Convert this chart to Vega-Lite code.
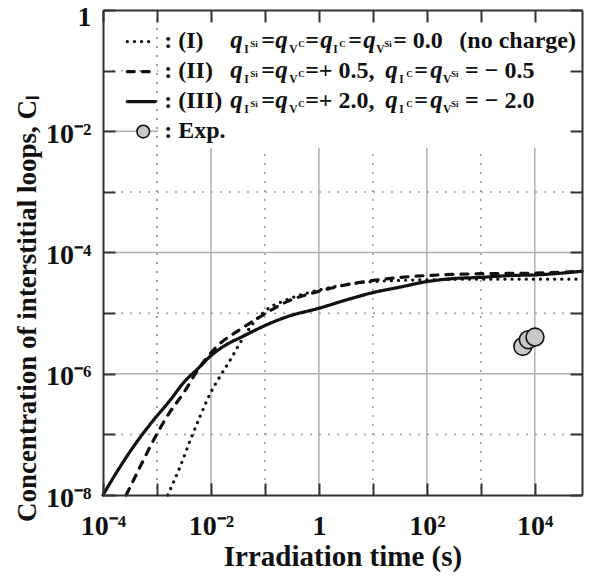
{
  "$schema": "https://vega.github.io/schema/vega-lite/v6.json",
  "width": 479,
  "height": 485,
  "autosize": {"type": "none"},
  "padding": {"left": 103, "top": 10, "right": 7, "bottom": 82},
  "config": {"view": {"stroke": null}, "font": "Liberation Serif"},
  "resolve": {"axis": {"x": "independent", "y": "independent"}},
  "datasets": {
    "grid": [
      {"ax": "x", "v": 0.001, "k": "d"}, {"ax": "x", "v": 0.01, "k": "s"}, {"ax": "x", "v": 0.1, "k": "d"}, {"ax": "x", "v": 1, "k": "s"},
      {"ax": "x", "v": 10, "k": "d"}, {"ax": "x", "v": 100, "k": "s"}, {"ax": "x", "v": 1000, "k": "d"}, {"ax": "x", "v": 10000, "k": "s"},
      {"ax": "y", "v": 1e-7, "k": "d"}, {"ax": "y", "v": 1e-6, "k": "s"}, {"ax": "y", "v": 1e-5, "k": "d"}, {"ax": "y", "v": 1e-4, "k": "s"},
      {"ax": "y", "v": 0.001, "k": "d"}, {"ax": "y", "v": 0.01, "k": "s"}, {"ax": "y", "v": 0.1, "k": "d"}
    ],
    "curves": [
      {"s": "III", "t": 0.0001, "c": 1e-8}, {"s": "III", "t": 0.0002089, "c": 2.951e-8}, {"s": "III", "t": 0.0004266, "c": 7.586e-8},
      {"s": "III", "t": 0.000871, "c": 1.738e-7}, {"s": "III", "t": 0.001778, "c": 3.715e-7}, {"s": "III", "t": 0.00309, "c": 7.079e-7},
      {"s": "III", "t": 0.00631, "c": 1.318e-6}, {"s": "III", "t": 0.00977, "c": 1.95e-6}, {"s": "III", "t": 0.01698, "c": 2.818e-6},
      {"s": "III", "t": 0.03981, "c": 4.169e-6}, {"s": "III", "t": 0.1096, "c": 6.457e-6}, {"s": "III", "t": 0.257, "c": 8.71e-6},
      {"s": "III", "t": 1, "c": 1.202e-5}, {"s": "III", "t": 3.311, "c": 1.66e-5}, {"s": "III", "t": 10.23, "c": 2.188e-5},
      {"s": "III", "t": 32.36, "c": 2.692e-5}, {"s": "III", "t": 100, "c": 3.311e-5}, {"s": "III", "t": 309, "c": 3.715e-5},
      {"s": "III", "t": 1000, "c": 3.89e-5}, {"s": "III", "t": 3467, "c": 4.169e-5}, {"s": "III", "t": 10000, "c": 4.266e-5},
      {"s": "III", "t": 75000, "c": 4.898e-5},
      {"s": "II", "t": 0.0002692, "c": 1e-8}, {"s": "II", "t": 0.0004898, "c": 2.951e-8}, {"s": "II", "t": 0.000871, "c": 8.128e-8},
      {"s": "II", "t": 0.001549, "c": 1.995e-7}, {"s": "II", "t": 0.00309, "c": 4.786e-7}, {"s": "II", "t": 0.00631, "c": 1.318e-6},
      {"s": "II", "t": 0.01288, "c": 2.818e-6}, {"s": "II", "t": 0.03467, "c": 5.37e-6}, {"s": "II", "t": 0.08128, "c": 8.71e-6},
      {"s": "II", "t": 0.257, "c": 1.549e-5}, {"s": "II", "t": 1, "c": 2.291e-5}, {"s": "II", "t": 3.311, "c": 2.951e-5},
      {"s": "II", "t": 10.23, "c": 3.467e-5}, {"s": "II", "t": 32.36, "c": 3.89e-5}, {"s": "II", "t": 100, "c": 4.169e-5},
      {"s": "II", "t": 1000, "c": 4.467e-5}, {"s": "II", "t": 10000, "c": 4.571e-5}, {"s": "II", "t": 75000, "c": 4.898e-5},
      {"s": "I", "t": 0.001585, "c": 1e-8}, {"s": "I", "t": 0.002692, "c": 2.951e-8}, {"s": "I", "t": 0.004169, "c": 8.128e-8},
      {"s": "I", "t": 0.00631, "c": 1.995e-7}, {"s": "I", "t": 0.00977, "c": 4.786e-7}, {"s": "I", "t": 0.01479, "c": 9.12e-7},
      {"s": "I", "t": 0.02291, "c": 1.698e-6}, {"s": "I", "t": 0.03467, "c": 3.236e-6}, {"s": "I", "t": 0.06166, "c": 6.918e-6},
      {"s": "I", "t": 0.1096, "c": 1.148e-5}, {"s": "I", "t": 0.257, "c": 1.66e-5}, {"s": "I", "t": 1, "c": 2.399e-5},
      {"s": "I", "t": 10.23, "c": 3.311e-5}, {"s": "I", "t": 100, "c": 3.548e-5}, {"s": "I", "t": 1000, "c": 3.631e-5},
      {"s": "I", "t": 75000, "c": 3.631e-5}
    ],
    "exp": [
      {"t": 6000, "c": 2.82e-6}, {"t": 7600, "c": 3.64e-6}, {"t": 10100, "c": 4.03e-6}
    ],
    "legendLines": [
      {"s": "I", "t": 0.0002818, "c": 0.3013}, {"s": "I", "t": 0.000931, "c": 0.3013},
      {"s": "II", "t": 0.0002818, "c": 0.0964}, {"s": "II", "t": 0.000931, "c": 0.0964},
      {"s": "III", "t": 0.0002818, "c": 0.0309}, {"s": "III", "t": 0.000931, "c": 0.0309}
    ],
    "legendDot": [{"t": 0.000557, "c": 0.00989}],
    "legendText": [
      {"k": "m", "t": 0.001365, "c": 0.2328, "txt": ": (I)"},
      {"k": "q", "t": 0.02277, "c": 0.2328, "txt": "q"}, {"k": "sb", "t": 0.04137, "c": 0.2328, "txt": "I"}, {"k": "sp", "t": 0.05343, "c": 0.2328, "txt": "Si"},
      {"k": "m", "t": 0.0854, "c": 0.2328, "txt": "="},
      {"k": "q", "t": 0.1551, "c": 0.2328, "txt": "q"}, {"k": "sb", "t": 0.2818, "c": 0.2328, "txt": "V"}, {"k": "sp", "t": 0.4137, "c": 0.2328, "txt": "C"},
      {"k": "m", "t": 0.5576, "c": 0.2328, "txt": "="},
      {"k": "q", "t": 1.057, "c": 0.2328, "txt": "q"}, {"k": "sb", "t": 1.84, "c": 0.2328, "txt": "I"}, {"k": "sp", "t": 2.376, "c": 0.2328, "txt": "C"},
      {"k": "m", "t": 3.487, "c": 0.2328, "txt": "="},
      {"k": "q", "t": 6.613, "c": 0.2328, "txt": "q"}, {"k": "sb", "t": 11.51, "c": 0.2328, "txt": "V"}, {"k": "sp", "t": 16.19, "c": 0.2328, "txt": "Si"},
      {"k": "m", "t": 23.76, "c": 0.2328, "txt": "= 0.0"},
      {"k": "m", "t": 400, "c": 0.2328, "txt": "(no charge)"},
      {"k": "m", "t": 0.001365, "c": 0.07447, "txt": ": (II)"},
      {"k": "q", "t": 0.02277, "c": 0.07447, "txt": "q"}, {"k": "sb", "t": 0.04137, "c": 0.07447, "txt": "I"}, {"k": "sp", "t": 0.05343, "c": 0.07447, "txt": "Si"},
      {"k": "m", "t": 0.0854, "c": 0.07447, "txt": "="},
      {"k": "q", "t": 0.1551, "c": 0.07447, "txt": "q"}, {"k": "sb", "t": 0.2818, "c": 0.07447, "txt": "V"}, {"k": "sp", "t": 0.4137, "c": 0.07447, "txt": "C"},
      {"k": "m", "t": 0.5576, "c": 0.07447, "txt": "=+ 0.5,"},
      {"k": "q", "t": 16.9, "c": 0.07447, "txt": "q"}, {"k": "sb", "t": 30.69, "c": 0.07447, "txt": "I"}, {"k": "sp", "t": 41.37, "c": 0.07447, "txt": "C"},
      {"k": "m", "t": 58.21, "c": 0.07447, "txt": "="},
      {"k": "q", "t": 115.1, "c": 0.07447, "txt": "q"}, {"k": "sb", "t": 200.4, "c": 0.07447, "txt": "V"}, {"k": "sp", "t": 281.8, "c": 0.07447, "txt": "Si"},
      {"k": "m", "t": 511.9, "c": 0.07447, "txt": "= − 0.5"},
      {"k": "m", "t": 0.001365, "c": 0.02388, "txt": ": (III)"},
      {"k": "q", "t": 0.02277, "c": 0.02388, "txt": "q"}, {"k": "sb", "t": 0.04137, "c": 0.02388, "txt": "I"}, {"k": "sp", "t": 0.05343, "c": 0.02388, "txt": "Si"},
      {"k": "m", "t": 0.0854, "c": 0.02388, "txt": "="},
      {"k": "q", "t": 0.1551, "c": 0.02388, "txt": "q"}, {"k": "sb", "t": 0.2818, "c": 0.02388, "txt": "V"}, {"k": "sp", "t": 0.4137, "c": 0.02388, "txt": "C"},
      {"k": "m", "t": 0.5576, "c": 0.02388, "txt": "=+ 2.0,"},
      {"k": "q", "t": 16.9, "c": 0.02388, "txt": "q"}, {"k": "sb", "t": 30.69, "c": 0.02388, "txt": "I"}, {"k": "sp", "t": 41.37, "c": 0.02388, "txt": "C"},
      {"k": "m", "t": 58.21, "c": 0.02388, "txt": "="},
      {"k": "q", "t": 115.1, "c": 0.02388, "txt": "q"}, {"k": "sb", "t": 200.4, "c": 0.02388, "txt": "V"}, {"k": "sp", "t": 281.8, "c": 0.02388, "txt": "Si"},
      {"k": "m", "t": 511.9, "c": 0.02388, "txt": "= − 2.0"},
      {"k": "m", "t": 0.001365, "c": 0.007638, "txt": ": Exp."}
    ]
  },
  "layer": [
    {
      "data": {"name": "grid"},
      "transform": [{"filter": "datum.ax == 'x' && datum.k == 's'"}],
      "mark": {"type": "rule", "color": "#b0b0b0", "strokeWidth": 1.5},
      "encoding": {"x": {"field": "v", "type": "quantitative", "scale": {"type": "log", "domain": [0.0001, 75000], "nice": false}, "axis": null}}
    },
    {
      "data": {"name": "grid"},
      "transform": [{"filter": "datum.ax == 'x' && datum.k == 'd'"}],
      "mark": {"type": "rule", "color": "#9a9a9a", "strokeWidth": 1.5, "strokeDash": [2, 7]},
      "encoding": {"x": {"field": "v", "type": "quantitative", "scale": {"type": "log", "domain": [0.0001, 75000], "nice": false}, "axis": null}}
    },
    {
      "data": {"name": "grid"},
      "transform": [{"filter": "datum.ax == 'y' && datum.k == 's'"}],
      "mark": {"type": "rule", "color": "#b0b0b0", "strokeWidth": 1.5},
      "encoding": {"y": {"field": "v", "type": "quantitative", "scale": {"type": "log", "domain": [1e-8, 1], "nice": false}, "axis": null}}
    },
    {
      "data": {"name": "grid"},
      "transform": [{"filter": "datum.ax == 'y' && datum.k == 'd'"}],
      "mark": {"type": "rule", "color": "#9a9a9a", "strokeWidth": 1.5, "strokeDash": [2, 7]},
      "encoding": {"y": {"field": "v", "type": "quantitative", "scale": {"type": "log", "domain": [1e-8, 1], "nice": false}, "axis": null}}
    },
    {
      "data": {"values": [{}]},
      "mark": {"type": "rect", "color": "white"},
      "encoding": {
        "x": {"datum": 0.00106, "type": "quantitative", "scale": {"type": "log", "domain": [0.0001, 75000], "nice": false}, "axis": null},
        "x2": {"datum": 75000},
        "y": {"datum": 1, "type": "quantitative", "scale": {"type": "log", "domain": [1e-8, 1], "nice": false}, "axis": null},
        "y2": {"datum": 0.0053}
      }
    },
    {
      "data": {"name": "grid"},
      "transform": [{"filter": "datum.ax == 'x' && datum.v == 0.001"}],
      "mark": {"type": "rule", "color": "#9a9a9a", "strokeWidth": 1.5, "strokeDash": [2, 7]},
      "encoding": {"x": {"field": "v", "type": "quantitative", "scale": {"type": "log", "domain": [0.0001, 75000], "nice": false}, "axis": null}}
    },
    {
      "data": {"name": "curves"},
      "mark": {"type": "line", "color": "#111111", "strokeWidth": 3.2, "strokeCap": "round", "interpolate": "monotone"},
      "encoding": {
        "x": {"field": "t", "type": "quantitative", "scale": {"type": "log", "domain": [0.0001, 75000], "nice": false},
          "axis": {"orient": "bottom", "values": [0.0001, 0.001, 0.01, 0.1, 1, 10, 100, 1000, 10000], "grid": false,
            "labelExpr": "(round(log(datum.value)/LN10) % 2 != 0) ? '' : (datum.value == 1 ? '1' : '10' + replace(replace(replace(replace(replace('' + round(log(datum.value)/LN10), '-', '⁻'), '2', '²'), '4', '⁴'), '6', '⁶'), '8', '⁸'))",
            "tickSize": -12, "tickWidth": 2, "tickColor": "#333333", "domainColor": "#333333", "domainWidth": 2,
            "labelFont": "Liberation Serif", "labelFontWeight": "bold", "labelFontSize": 28, "labelColor": "#111111",
            "labelPadding": 29, "labelOverlap": false, "labelFlush": false, "labelBound": false,
            "title": "Irradiation time (s)", "titleFont": "Liberation Serif", "titleFontSize": 29, "titleFontWeight": "bold", "titleColor": "#111111", "titlePadding": 2, "zindex": 1}},
        "y": {"field": "c", "type": "quantitative", "scale": {"type": "log", "domain": [1e-8, 1], "nice": false},
          "axis": {"orient": "left", "values": [1e-8, 1e-7, 1e-6, 1e-5, 1e-4, 0.001, 0.01, 0.1, 1], "grid": false,
            "labelExpr": "(round(log(datum.value)/LN10) % 2 != 0) ? '' : (datum.value == 1 ? '1' : '10' + replace(replace(replace(replace(replace('' + round(log(datum.value)/LN10), '-', '⁻'), '2', '²'), '4', '⁴'), '6', '⁶'), '8', '⁸'))",
            "tickSize": -12, "tickWidth": 2, "tickColor": "#333333", "domainColor": "#333333", "domainWidth": 2,
            "labelFont": "Liberation Serif", "labelFontWeight": "bold", "labelFontSize": 28, "labelColor": "#111111",
            "labelPadding": 24, "labelOffset": {"condition": {"test": "datum.value == 1", "value": 7}, "value": 3}, "labelOverlap": false, "labelFlush": false, "labelBound": false,
            "title": "Concentration of interstitial loops, Cₗ", "titleFont": "Liberation Serif", "titleFontSize": 27, "titleFontWeight": "bold", "titleColor": "#111111", "titlePadding": 4, "titleY": 298, "zindex": 1}},
        "strokeDash": {"field": "s", "type": "nominal", "scale": {"domain": ["I", "II", "III"], "range": [[0.1, 7], [7, 8], [1, 0]]}, "legend": null}
      }
    },
    {
      "data": {"name": "exp"},
      "mark": {"type": "point", "shape": "circle", "filled": true, "fill": "#c8c8c8", "stroke": "#111111", "strokeWidth": 1.6, "size": 320, "opacity": 1},
      "encoding": {
        "x": {"field": "t", "type": "quantitative", "scale": {"type": "log", "domain": [0.0001, 75000], "nice": false},
          "axis": {"orient": "top", "values": [0.0001, 0.001, 0.01, 0.1, 1, 10, 100, 1000, 10000], "grid": false, "labels": false, "title": null,
            "tickSize": -12, "tickWidth": 2, "tickColor": "#333333", "domainColor": "#333333", "domainWidth": 2, "zindex": 1}},
        "y": {"field": "c", "type": "quantitative", "scale": {"type": "log", "domain": [1e-8, 1], "nice": false},
          "axis": {"orient": "right", "values": [1e-8, 1e-7, 1e-6, 1e-5, 1e-4, 0.001, 0.01, 0.1, 1], "grid": false, "labels": false, "title": null,
            "tickSize": -12, "tickWidth": 2, "tickColor": "#333333", "domainColor": "#333333", "domainWidth": 2, "zindex": 1}}
      }
    },
    {
      "data": {"name": "legendLines"},
      "mark": {"type": "line", "color": "#111111", "strokeWidth": 3.2, "strokeCap": "round"},
      "encoding": {
        "x": {"field": "t", "type": "quantitative", "scale": {"type": "log", "domain": [0.0001, 75000], "nice": false}, "axis": null},
        "y": {"field": "c", "type": "quantitative", "scale": {"type": "log", "domain": [1e-8, 1], "nice": false}, "axis": null},
        "strokeDash": {"field": "s", "type": "nominal", "scale": {"domain": ["I", "II", "III"], "range": [[0.1, 7], [7, 8], [1, 0]]}, "legend": null}
      }
    },
    {
      "data": {"name": "legendDot"},
      "mark": {"type": "point", "shape": "circle", "filled": true, "fill": "#c8c8c8", "stroke": "#111111", "strokeWidth": 1.6, "size": 160, "opacity": 1},
      "encoding": {
        "x": {"field": "t", "type": "quantitative", "scale": {"type": "log", "domain": [0.0001, 75000], "nice": false}, "axis": null},
        "y": {"field": "c", "type": "quantitative", "scale": {"type": "log", "domain": [1e-8, 1], "nice": false}, "axis": null}
      }
    },
    {
      "data": {"name": "legendText"},
      "transform": [{"filter": "datum.k == 'm'"}],
      "mark": {"type": "text", "align": "left", "baseline": "alphabetic", "font": "Liberation Serif", "fontSize": 24, "fontWeight": "bold", "color": "#111111"},
      "encoding": {
        "x": {"field": "t", "type": "quantitative", "scale": {"type": "log", "domain": [0.0001, 75000], "nice": false}, "axis": null},
        "y": {"field": "c", "type": "quantitative", "scale": {"type": "log", "domain": [1e-8, 1], "nice": false}, "axis": null},
        "text": {"field": "txt"}
      }
    },
    {
      "data": {"name": "legendText"},
      "transform": [{"filter": "datum.k == 'q'"}],
      "mark": {"type": "text", "align": "left", "baseline": "alphabetic", "font": "Liberation Serif", "fontSize": 25, "fontWeight": "bold", "fontStyle": "italic", "color": "#111111"},
      "encoding": {
        "x": {"field": "t", "type": "quantitative", "scale": {"type": "log", "domain": [0.0001, 75000], "nice": false}, "axis": null},
        "y": {"field": "c", "type": "quantitative", "scale": {"type": "log", "domain": [1e-8, 1], "nice": false}, "axis": null},
        "text": {"field": "txt"}
      }
    },
    {
      "data": {"name": "legendText"},
      "transform": [{"filter": "datum.k == 'sb'"}],
      "mark": {"type": "text", "align": "left", "baseline": "alphabetic", "dy": 4.5, "font": "Liberation Serif", "fontSize": 11.5, "fontWeight": "bold", "color": "#111111"},
      "encoding": {
        "x": {"field": "t", "type": "quantitative", "scale": {"type": "log", "domain": [0.0001, 75000], "nice": false}, "axis": null},
        "y": {"field": "c", "type": "quantitative", "scale": {"type": "log", "domain": [1e-8, 1], "nice": false}, "axis": null},
        "text": {"field": "txt"}
      }
    },
    {
      "data": {"name": "legendText"},
      "transform": [{"filter": "datum.k == 'sp'"}],
      "mark": {"type": "text", "align": "left", "baseline": "alphabetic", "dy": -1.5, "font": "Liberation Serif", "fontSize": 9, "fontWeight": "bold", "color": "#111111"},
      "encoding": {
        "x": {"field": "t", "type": "quantitative", "scale": {"type": "log", "domain": [0.0001, 75000], "nice": false}, "axis": null},
        "y": {"field": "c", "type": "quantitative", "scale": {"type": "log", "domain": [1e-8, 1], "nice": false}, "axis": null},
        "text": {"field": "txt"}
      }
    }
  ]
}
